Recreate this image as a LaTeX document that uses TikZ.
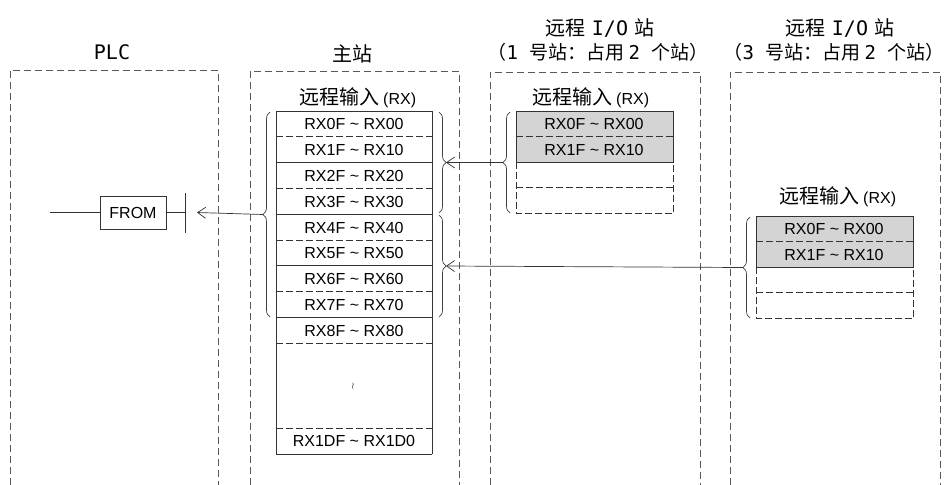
\documentclass[tikz,border=0pt]{standalone}
\usepackage{fontspec}
\setmainfont{Liberation Sans}
\newfontfamily\cjk{Noto Sans CJK SC}
\newfontfamily\monofont{DejaVu Sans Mono}
\usetikzlibrary{positioning}
\usetikzlibrary{arrows.meta}
\usetikzlibrary{decorations.pathreplacing}

\tikzset{
    station/.style={draw=black!65, line width=0.7pt, dash pattern=on 7pt off 4pt},
    cellline/.style={draw=black!80, line width=0.8pt},
    celldash/.style={cellline, dash pattern=on 7pt off 3pt},
    curly/.style={decorate, decoration={brace, amplitude=7pt}, draw=black!75, line width=0.7pt},
    link/.style={draw=black!80, line width=0.7pt, -{Straight Barb[length=8pt,width=11pt]}},
    title/.style={font=\cjk\fontsize{20}{22}\selectfont, inner sep=0pt},
    subtitle/.style={font=\cjk\fontsize{19}{21}\selectfont, inner sep=0pt},
    rxlabel/.style={font=\fontsize{16}{18}\selectfont, inner sep=0pt},
    rxhead/.style={font=\cjk\fontsize{20}{22}\selectfont, inner sep=0pt},
}

\begin{document}
\begin{tikzpicture}[x=1pt, y=-1pt]
    \useasboundingbox (0,0) rectangle (946,485);

    % titles
    \node[title] (plctitle) at (112,52) {\monofont PLC};
    \node[title] (mastertitle) at (352,54) {主站};
    \node[title] (st1title) at (600,28) {远程\hspace{6pt}{\monofont I/O}\hspace{6pt}站};
    \node[subtitle] (st1sub) at (598,52) {（{\monofont 1 }号站：占用\hspace{4pt}{\monofont 2 }个站）};
    \node[title] (st3title) at (840,28) {远程\hspace{6pt}{\monofont I/O}\hspace{6pt}站};
    \node[subtitle] (st3sub) at (834,52) {（{\monofont 3 }号站：占用\hspace{4pt}{\monofont 2 }个站）};

    % dashed frames, open at the bottom
    \draw[station] (10,485) -- (10,70) -- (218,70) -- (218,485);
    \draw[station] (250,485) -- (250,71) -- (459,71) -- (459,485);
    \draw[station] (490,485) -- (490,72) -- (700,72) -- (700,485);
    \draw[station] (730,485) -- (730,72) -- (940,72) -- (940,485);

    % master station RX area
    \node[rxhead] (mhead) at (358,98) {远程输入\,{\rmfamily\fontsize{16}{18}\selectfont (RX)}};
    \draw[cellline] (276,111) -- (276,454);
    \draw[cellline] (432,111) -- (432,454);
    \foreach \k in {0,...,9} {
        \pgfmathsetmacro\yy{111+25.8*\k}
        \ifodd\k
            \draw[celldash] (276,\yy) -- (432,\yy);
        \else
            \draw[cellline] (276,\yy) -- (432,\yy);
        \fi
    }
    \draw[celldash] (276,428) -- (432,428);
    \draw[cellline] (276,454) -- (432,454);
    \foreach \k in {0,...,8} {
        \node[rxlabel] (m\k) at (354,{124.4+25.8*\k}) {RX\k F \textasciitilde{} RX\k 0};
    }
    \node[font=\fontsize{9}{10}\selectfont] (mdots) at (353,386) {$\wr$};
    \node[rxlabel] (mlast) at (354,441) {RX1DF \textasciitilde{} RX1D0};

    % station 1
    \node[rxhead] (s1head) at (591,98) {远程输入\,{\rmfamily\fontsize{16}{18}\selectfont (RX)}};
    \fill[black!17] (516,111) rectangle (673,162.2);
    \draw[cellline] (516,162.2) -- (516,111) -- (673,111) -- (673,162.2) -- cycle;
    \draw[celldash] (516,136.6) -- (673,136.6);
    \draw[celldash] (516,162.2) -- (516,213.4) -- (673,213.4) -- (673,162.2);
    \draw[celldash] (516,187.8) -- (673,187.8);
    \node[rxlabel] (s1a) at (594,124) {RX0F \textasciitilde{} RX00};
    \node[rxlabel] (s1b) at (594,149.6) {RX1F \textasciitilde{} RX10};

    % station 3
    \node[rxhead] (s3head) at (838,197) {远程输入\,{\rmfamily\fontsize{16}{18}\selectfont (RX)}};
    \fill[black!17] (756,216) rectangle (913,267.2);
    \draw[cellline] (756,267.2) -- (756,216) -- (913,216) -- (913,267.2) -- cycle;
    \draw[celldash] (756,241.6) -- (913,241.6);
    \draw[celldash] (756,267.2) -- (756,318.4) -- (913,318.4) -- (913,267.2);
    \draw[celldash] (756,292.8) -- (913,292.8);
    \node[rxlabel] (s3a) at (834,229) {RX0F \textasciitilde{} RX00};
    \node[rxlabel] (s3b) at (834,254.6) {RX1F \textasciitilde{} RX10};

    % braces
    \draw[curly] (270,317) -- (270,112);
    \draw[curly] (439,112) -- (439,213);
    \draw[curly] (439,215) -- (439,317);
    \draw[curly] (510,213) -- (510,112);
    \draw[curly] (750,318) -- (750,217);
    \coordinate (mtipl) at (263,214.5);
    \coordinate (mtipr1) at (446,162.5);
    \coordinate (mtipr2) at (446,266);
    \coordinate (s1tip) at (503,162.5);
    \coordinate (s3tip) at (743,267.5);

    % ladder side
    \node[draw=black!80, line width=0.8pt, minimum width=66pt, minimum height=33pt, rxlabel] (from) at (133,212.5) {FROM};
    \coordinate (rung) at (50,212.5);
    \coordinate (contact) at (185,212.5);
    \coordinate (contacttop) at (185,193);
    \coordinate (contactbot) at (185,233);
    \coordinate (fromin) at (197,212.5);
    \draw[cellline, line width=0.7pt] (rung) -- (from.west);
    \draw[cellline, line width=0.7pt] (from.east) -- (contact);
    \draw[cellline, line width=0.7pt] (contacttop) -- (contactbot);

    % data flow
    \draw[link] (s1tip) -- (mtipr1);
    \draw[link] (s3tip) -- (mtipr2);
    \draw[link] (mtipl) -- (fromin);
\end{tikzpicture}
\end{document}
